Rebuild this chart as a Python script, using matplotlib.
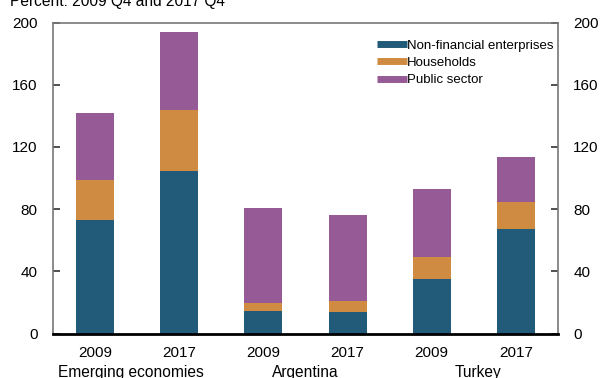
import matplotlib
matplotlib.use("Agg")
import matplotlib.pyplot as plt
from matplotlib.lines import Line2D
from matplotlib.transforms import blended_transform_factory
import numpy as np

plt.rcParams['font.family'] = ['Liberation Sans', 'DejaVu Sans']

years = ["2009", "2017", "2009", "2017", "2009", "2017"]
groups = ["Emerging economies", "Argentina", "Turkey"]
series_names = ["Non-financial enterprises", "Households", "Public sector"]
nonfin = [73.0, 104.5, 14.5, 13.8, 35.0, 67.3]
households = [25.7, 39.5, 5.1, 7.1, 14.3, 17.4]
public = [43.0, 49.6, 61.2, 55.4, 43.7, 28.9]
colors = ["#225a79", "#cf8b42", "#965a96"]
yticks = [0, 40, 80, 120, 160, 200]
title = "Percent: 2009 Q4 and 2017 Q4"

fig = plt.figure(figsize=(6.03, 3.78), dpi=100)
ax = fig.add_axes([53/603, 1-333.5/378, (558-53)/603, (333.5-22.5)/378])

x = np.arange(len(years))
w = 0.45
b1 = np.array(nonfin)
b2 = b1 + np.array(households)
ax.bar(x, nonfin, w, color=colors[0])
ax.bar(x, households, w, bottom=b1, color=colors[1])
ax.bar(x, public, w, bottom=b2, color=colors[2])

ax.set_xlim(-0.5, 5.5)
ax.set_ylim(0, 200)
ax.set_yticks(yticks)
ax.set_xticks(x)
ax.set_xticklabels(years)
ax.tick_params(axis='x', length=0, pad=9, labelsize=11)
ax.tick_params(axis='y', direction='in', length=5, width=1.2, pad=11,
               labelsize=11, left=True, right=True, labelleft=True, labelright=True,
               color='#333333')

for s in ['left', 'right', 'top']:
    ax.spines[s].set_color('#777777')
    ax.spines[s].set_linewidth(1.2)
ax.spines['bottom'].set_color('black')
ax.spines['bottom'].set_linewidth(2)

handles = [Line2D([0], [0], color=c, lw=5, solid_capstyle='butt') for c in colors]
ax.legend(handles, series_names, loc='upper right', bbox_to_anchor=(1.01, 0.975),
          frameon=False, fontsize=9.5, handlelength=2.3, handletextpad=0.0,
          labelspacing=0.38, borderaxespad=0.3)

trans = blended_transform_factory(ax.transData, fig.transFigure)
for gx, g in zip([0.43, 2.5, 4.55], groups):
    ax.text(gx, 1 - 377/378, g, transform=trans, ha='center', va='baseline',
            fontsize=11.2)

fig.text(10/603, 1 - 6/378, title, ha='left', va='baseline', fontsize=11.2)

fig.savefig("out.png", dpi=100)
